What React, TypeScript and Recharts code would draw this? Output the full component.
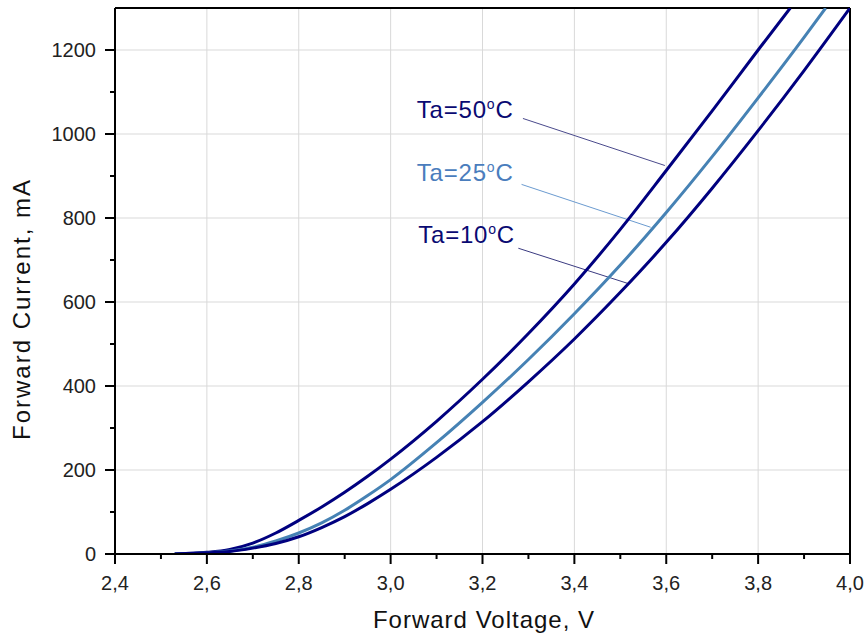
import React from 'react';
import {
  LineChart,
  Line,
  XAxis,
  YAxis,
  CartesianGrid,
  ReferenceLine,
  ReferenceDot,
} from 'recharts';

// ---- data ----
const v50 = [2.53, 2.6, 2.65, 2.7, 2.75, 2.8, 2.85, 2.9, 2.95, 3.0, 3.1, 3.2, 3.3, 3.4, 3.5, 3.6, 3.7, 3.8, 3.87];
const i50 = [0, 4, 11, 26, 50, 80, 112, 147, 185, 226, 316, 416, 525, 643, 773, 913, 1055, 1200, 1300];

const v25 = [2.53, 2.6, 2.65, 2.7, 2.75, 2.8, 2.85, 2.9, 2.95, 3.0, 3.1, 3.2, 3.3, 3.4, 3.5, 3.6, 3.7, 3.8, 3.9, 3.947];
const i25 = [0, 3, 7, 16, 31, 50, 74, 104, 139, 177, 265, 361, 463, 572, 688, 813, 946, 1086, 1230, 1300];

const v10 = [2.53, 2.6, 2.65, 2.7, 2.75, 2.8, 2.85, 2.9, 2.95, 3.0, 3.1, 3.2, 3.3, 3.4, 3.5, 3.6, 3.7, 3.8, 3.9, 4.0];
const i10 = [0, 3, 6, 14, 25, 41, 63, 89, 120, 154, 230, 315, 410, 512, 623, 742, 871, 1008, 1151, 1300];

const xMajor = [2.4, 2.6, 2.8, 3.0, 3.2, 3.4, 3.6, 3.8, 4.0];
const xMinor = [2.5, 2.7, 2.9, 3.1, 3.3, 3.5, 3.7, 3.9];
const yMajor = [0, 200, 400, 600, 800, 1000, 1200];
const yMinor = [100, 300, 500, 700, 900, 1100];

// annotations: label text, label anchor, leader line start/end (data units)
const annTemps = ['50', '25', '10'];
const annTextV = [3.057, 3.057, 3.06];
const annTextI = [1038, 888, 740];
const annLineV1 = [3.288, 3.285, 3.278];
const annLineI1 = [1037, 880, 728];
const annLineV2 = [3.597, 3.566, 3.517];
const annLineI2 = [925, 778, 644];

const NAVY = '#00007f';
const LIGHT = '#4682b4';
const annTextColors = ['#0a0a72', '#4a7dbd', '#0a0a72'];
const annLineColors = ['#4a4a8c', '#6b9bd0', '#3a3a80'];
const FONT = '"Liberation Sans", Arial, Helvetica, sans-serif';

const toRows = (vs: number[], is: number[]) => vs.map((v, k) => ({ v, i: is[k] }));
const rows50 = toRows(v50, i50);
const rows25 = toRows(v25, i25);
const rows10 = toRows(v10, i10);

const xTicks = [...xMajor, ...xMinor].sort((a, b) => a - b);
const yTicks = [...yMajor, ...yMinor].sort((a, b) => a - b);

function XTick(props: any) {
  const { x, y, payload } = props;
  const major = xMajor.includes(payload.value);
  return (
    <g>
      <line x1={x} y1={y} x2={x} y2={y + (major ? 10 : 5)} stroke="#000" strokeWidth={2} />
      {major && (
        <text x={x} y={y + 36} textAnchor="middle" fontFamily={FONT} fontSize={20} fill="#222">
          {payload.value.toFixed(1).replace('.', ',')}
        </text>
      )}
    </g>
  );
}

function YTick(props: any) {
  const { x, y, payload } = props;
  const major = yMajor.includes(payload.value);
  return (
    <g>
      <line x1={x - (major ? 10 : 5)} y1={y} x2={x} y2={y} stroke="#000" strokeWidth={2} />
      {major && (
        <text x={x - 19} y={y} dy="0.36em" textAnchor="end" fontFamily={FONT} fontSize={20} fill="#222">
          {payload.value}
        </text>
      )}
    </g>
  );
}

export default function App() {
  return (
    <div style={{ position: 'absolute', left: 0, top: 0, width: 865, height: 641, background: '#fff' }}>
      <LineChart width={865} height={641} margin={{ top: 8, right: 15, bottom: 0, left: 0 }}>
        <CartesianGrid stroke="#d9d9d9" strokeWidth={1} horizontalValues={yMajor} verticalValues={xMajor} />
        <XAxis
          type="number"
          dataKey="v"
          domain={[2.4, 4.0]}
          ticks={xTicks}
          interval={0}
          allowDataOverflow
          height={87}
          tickSize={0}
          tickMargin={0}
          tickLine={false}
          axisLine={{ stroke: '#000', strokeWidth: 2 }}
          tick={<XTick />}
          label={(p: any) => (
            <text x={484} y={628} textAnchor="middle" fontFamily={FONT} fontSize={24} letterSpacing={1} fill="#111">
              Forward Voltage, V
            </text>
          )}
        />
        <YAxis
          type="number"
          domain={[0, 1300]}
          ticks={yTicks}
          interval={0}
          allowDataOverflow
          width={115}
          tickSize={0}
          tickMargin={0}
          tickLine={false}
          axisLine={{ stroke: '#000', strokeWidth: 2 }}
          tick={<YTick />}
          label={(p: any) => (
            <text
              x={30}
              y={309}
              textAnchor="middle"
              transform="rotate(-90 30 309)"
              fontFamily={FONT}
              fontSize={24}
              letterSpacing={2}
              fill="#111"
            >
              Forward Current, mA
            </text>
          )}
        />
        <ReferenceLine y={1300} stroke="#000" strokeWidth={2} />
        <ReferenceLine x={4.0} stroke="#000" strokeWidth={2} />
        {annTemps.map((t, k) => (
          <ReferenceLine
            key={'l' + t}
            segment={[
              { x: annLineV1[k], y: annLineI1[k] },
              { x: annLineV2[k], y: annLineI2[k] },
            ]}
            stroke={annLineColors[k]}
            strokeWidth={1}
          />
        ))}
        <Line data={rows50} dataKey="i" type="monotone" stroke={NAVY} strokeWidth={3} dot={false} isAnimationActive={false} />
        <Line data={rows25} dataKey="i" type="monotone" stroke={LIGHT} strokeWidth={3} dot={false} isAnimationActive={false} />
        <Line data={rows10} dataKey="i" type="monotone" stroke={NAVY} strokeWidth={3} dot={false} isAnimationActive={false} />
        {annTemps.map((t, k) => (
          <ReferenceDot
            key={'t' + t}
            x={annTextV[k]}
            y={annTextI[k]}
            r={0}
            shape={(p: any) => (
              <text x={p.cx} y={p.cy} fontFamily={FONT} fontSize={24} letterSpacing={0.8} fill={annTextColors[k]}>
                {'Ta=' + t}
                <tspan fontSize={14} dy={-9}>o</tspan>
                <tspan fontSize={24} dy={9}>C</tspan>
              </text>
            )}
          />
        ))}
      </LineChart>
    </div>
  );
}
